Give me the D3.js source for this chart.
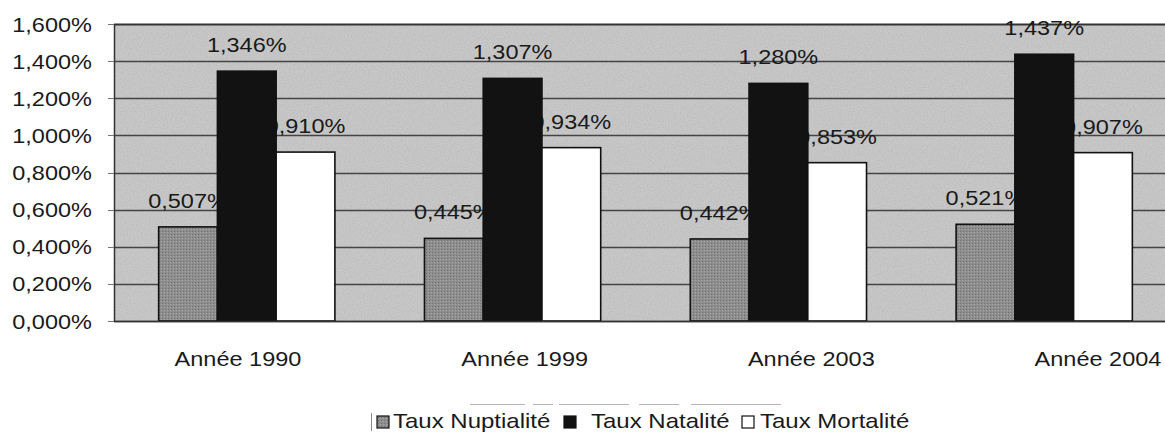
<!DOCTYPE html>
<html>
<head>
<meta charset="utf-8">
<script src="https://cdn.jsdelivr.net/npm/d3@7"></script>
<style>
  body { margin: 0; background: #fff; }
  text { font-family: "Liberation Sans", Arial, sans-serif; fill: #1a1a1a; }
</style>
</head>
<body>
<svg id="chart" width="1165" height="436"></svg>
<script>
//// DATA

const categories = ["Année 1990", "Année 1999", "Année 2003", "Année 2004"];
const seriesNames = ["Taux Nuptialité", "Taux Natalité", "Taux Mortalité"];
const nuptialite = [0.507, 0.445, 0.442, 0.521];
const natalite = [1.346, 1.307, 1.280, 1.437];
const mortalite = [0.910, 0.934, 0.853, 0.907];
const yTicks = [0, 0.2, 0.4, 0.6, 0.8, 1.0, 1.2, 1.4, 1.6];

const SERIES_FILL = ["url(#grey-stipple)", "#121212", "#ffffff"];
const STRETCH = 1.12;

//////////////
const svg = d3.select("#chart");
const plot = { left: 114, top: 24, width: 1063, height: 297 };

const fmt = v => d3.format(".3f")(v).replace(".", ",") + "%";

const x = d3.scaleBand()
  .domain(categories)
  .range([plot.left, plot.left + plot.width])
  .paddingInner(0.337)
  .paddingOuter(0.168);

// the category labels in the scan sit on a slightly wider spacing than the bars
const xLabel = d3.scalePoint()
  .domain(categories)
  .range([238, 1098]);

const xs = d3.scaleBand()
  .domain(d3.range(seriesNames.length))
  .range([0, x.bandwidth()]);

const y = d3.scaleLinear().domain([0, 1.6]).range([plot.top + plot.height, plot.top]);

// textures
const defs = svg.append("defs");
const bg = defs.append("filter").attr("id", "grain")
  .attr("filterUnits", "userSpaceOnUse")
  .attr("x", plot.left).attr("y", plot.top).attr("width", plot.width).attr("height", plot.height);
bg.append("feTurbulence").attr("type", "fractalNoise").attr("baseFrequency", "0.7").attr("numOctaves", 2).attr("seed", 3).attr("result", "n");
bg.append("feColorMatrix").attr("in", "n").attr("type", "matrix")
  .attr("values", "0 0 0 0 0.45  0 0 0 0 0.45  0 0 0 0 0.45  1.2 0 0 0 -0.45").attr("result", "g");
bg.append("feComposite").attr("in", "g").attr("in2", "SourceGraphic").attr("operator", "in").attr("result", "gc");
bg.append("feMerge").call(m => {
  m.append("feMergeNode").attr("in", "SourceGraphic");
  m.append("feMergeNode").attr("in", "gc");
});

const pat = defs.append("pattern").attr("id", "grey-stipple")
  .attr("width", 3).attr("height", 3).attr("patternUnits", "userSpaceOnUse");
pat.append("rect").attr("width", 3).attr("height", 3).attr("fill", "#8e8e8e");
pat.append("rect").attr("width", 1).attr("height", 1).attr("fill", "#707070");
pat.append("rect").attr("x", 2).attr("y", 1).attr("width", 1).attr("height", 1).attr("fill", "#a6a6a6");

// plot background
svg.append("rect")
  .attr("x", plot.left).attr("y", plot.top)
  .attr("width", plot.width).attr("height", plot.height)
  .attr("fill", "#c8c8c8")
  .attr("filter", "url(#grain)");

// grid
svg.append("g").selectAll("line")
  .data(yTicks)
  .join("line")
  .attr("x1", plot.left).attr("x2", plot.left + plot.width)
  .attr("y1", d => Math.round(y(d)) + 0.5).attr("y2", d => Math.round(y(d)) + 0.5)
  .attr("stroke", d => d === 1.6 ? "#333" : "#444")
  .attr("stroke-width", d => d === 1.6 ? 1.8 : 1.4);

svg.append("line")
  .attr("x1", plot.left + 0.5).attr("x2", plot.left + 0.5)
  .attr("y1", plot.top).attr("y2", plot.top + plot.height)
  .attr("stroke", "#333").attr("stroke-width", 1.5);

// y axis ticks & labels
const yAxis = svg.append("g");
yAxis.selectAll("line")
  .data(yTicks)
  .join("line")
  .attr("x1", plot.left - 6).attr("x2", plot.left)
  .attr("y1", d => Math.round(y(d)) + 0.5).attr("y2", d => Math.round(y(d)) + 0.5)
  .attr("stroke", "#777");
yAxis.selectAll("text")
  .data(yTicks)
  .join("text")
  .attr("transform", d => `translate(92,${y(d) + 7.5}) scale(${STRETCH},1)`)
  .attr("text-anchor", "end")
  .attr("font-size", 21)
  .text(d => fmt(d));

const rows = categories.map((c, i) => ({ cat: c, values: [nuptialite[i], natalite[i], mortalite[i]] }));

// value labels (under bars, as in the original where bars overlap them)
const labels = svg.append("g");
rows.forEach(r => {
  labels.selectAll(null)
    .data(r.values)
    .join("text")
    .attr("transform", (v, k) => `translate(${x(r.cat) + xs(k) + xs.bandwidth() / 2},${y(v) - 19}) scale(${STRETCH},1)`)
    .attr("text-anchor", "middle")
    .attr("font-size", 21)
    .text(v => fmt(v));
});

// bars
const bars = svg.append("g");
rows.forEach(r => {
  bars.selectAll(null)
    .data(r.values)
    .join("rect")
    .attr("x", (v, k) => x(r.cat) + xs(k))
    .attr("y", v => y(v))
    .attr("width", xs.bandwidth())
    .attr("height", v => y(0) - y(v))
    .attr("fill", (v, k) => SERIES_FILL[k])
    .attr("stroke", "#111")
    .attr("stroke-width", 1.6);
});

// x axis baseline
svg.append("line")
  .attr("x1", plot.left).attr("x2", plot.left + plot.width)
  .attr("y1", y(0) + 0.5).attr("y2", y(0) + 0.5)
  .attr("stroke", "#333").attr("stroke-width", 1.5);

// category labels
svg.append("g").selectAll("text")
  .data(categories)
  .join("text")
  .attr("transform", c => `translate(${xLabel(c)},366) scale(${STRETCH},1)`)
  .attr("text-anchor", "middle")
  .attr("font-size", 21)
  .text(c => c);

// legend
const legend = svg.append("g");
legend.append("line")
  .attr("x1", 470).attr("x2", 800).attr("y1", 404.5).attr("y2", 404.5)
  .attr("stroke", "#b4b4b4").attr("stroke-width", 1.2)
  .attr("stroke-dasharray", "55 8 20 6 70 10 40 12 90");
legend.append("line")
  .attr("x1", 371.5).attr("x2", 371.5).attr("y1", 413).attr("y2", 431)
  .attr("stroke", "#888");

const legendBox = [377, 564, 742];
const legendText = [393, 591, 760];
seriesNames.forEach((name, k) => {
  legend.append("rect")
    .attr("x", legendBox[k]).attr("y", 416)
    .attr("width", 12).attr("height", 12)
    .attr("fill", SERIES_FILL[k])
    .attr("stroke", "#111").attr("stroke-width", 1.2);
  legend.append("text")
    .attr("transform", `translate(${legendText[k]},428) scale(1.2,1)`)
    .attr("font-size", 20)
    .text(name);
});
</script>
</body>
</html>
